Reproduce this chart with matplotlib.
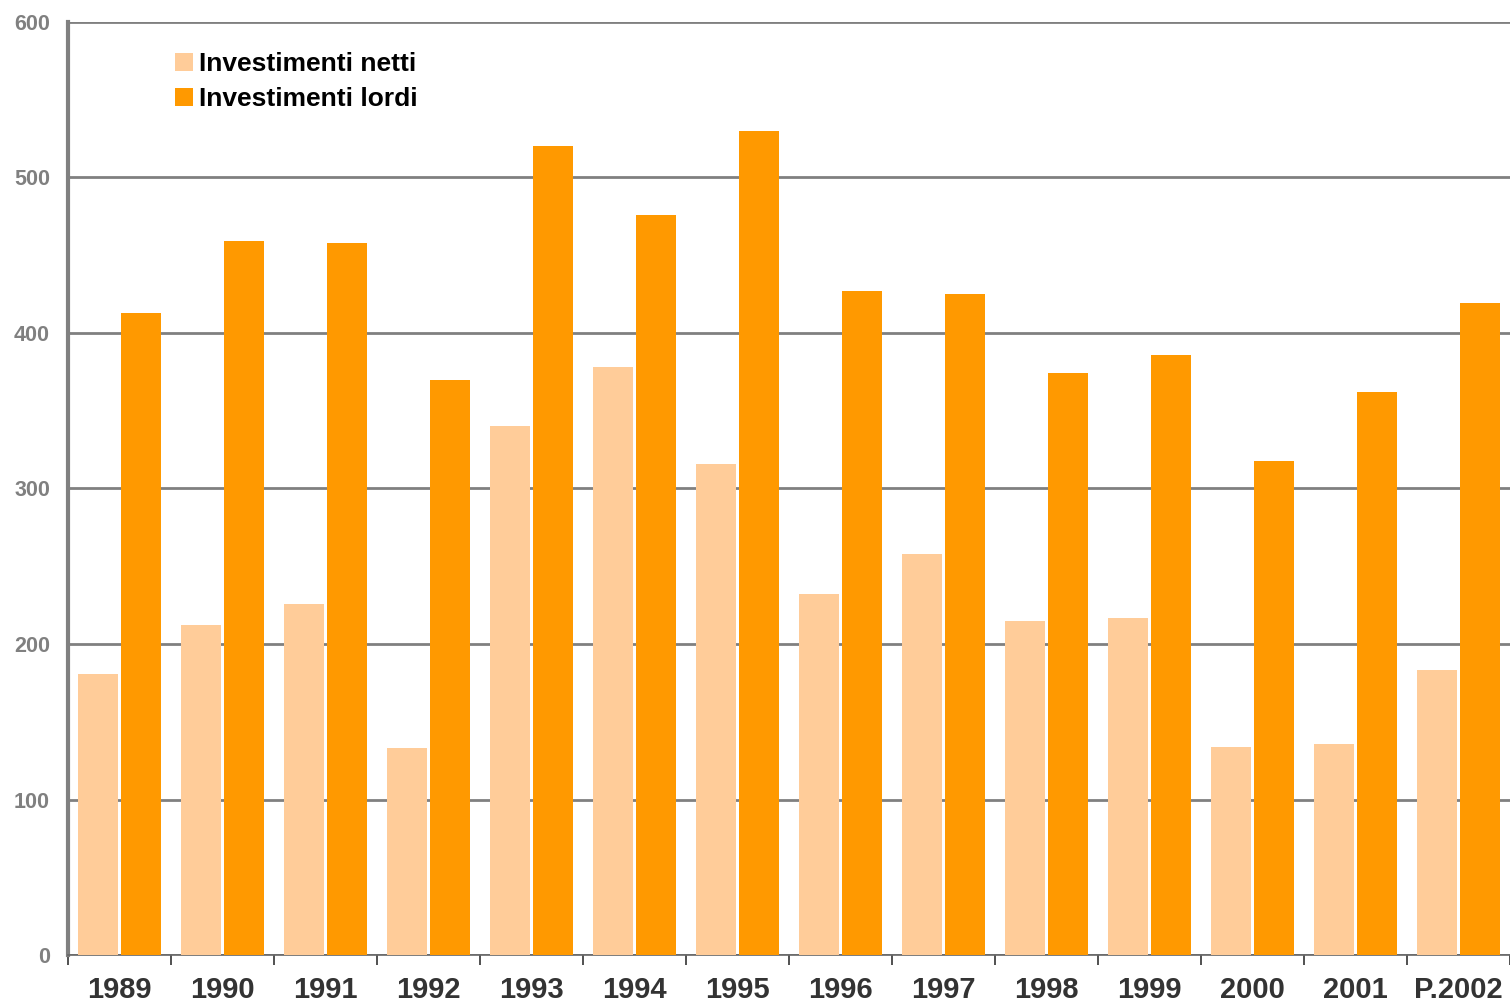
import numpy as np
import matplotlib
matplotlib.use('Agg')
from matplotlib import pyplot as plt

anni = ['1989', '1990', '1991', '1992', '1993', '1994', '1995',
        '1996', '1997', '1998', '1999', '2000', '2001', 'P.2002']
netti = [181, 212, 226, 133, 340, 378, 316, 232, 258, 215, 217, 134, 136, 183]
lordi = [413, 459, 458, 370, 520, 476, 530, 427, 425, 374, 386, 318, 362, 419]

plt.rcParams['font.family'] = ['Liberation Sans', 'DejaVu Sans']

fig = plt.figure(figsize=(15.1, 10.05), dpi=100)
ax = fig.add_axes([68/1510, 50/1005, 1 - 68/1510, 933/1005])

x = np.arange(len(anni))
w = 0.388
ax.bar(x - 0.209, netti, w, color='#FFCC99', label='Investimenti netti', zorder=3)
ax.bar(x + 0.209, lordi, w, color='#FF9900', label='Investimenti lordi', zorder=3)

ax.set_xlim(-0.5, len(anni) - 0.5)
ax.set_ylim(0, 600)
ax.set_yticks(range(0, 601, 100))
ax.yaxis.grid(True, color='#808080', linewidth=2, zorder=1)
ax.set_axisbelow(True)

ax.set_xticks(x)
ax.set_xticklabels(anni, fontsize=21, fontweight='bold', color='#333333')
ax.tick_params(axis='x', which='major', length=0, pad=15)
ax.set_xticks(np.arange(-0.5, len(anni)), minor=True)
ax.tick_params(axis='x', which='minor', length=7, width=1.2, color='#333333', direction='out')
ax.tick_params(axis='y', length=0, pad=13, labelsize=15.5, labelcolor='#808080')
for t in ax.get_yticklabels():
    t.set_fontweight('bold')

for s in ['top', 'right']:
    ax.spines[s].set_visible(False)
ax.spines['left'].set_color('#808080')
ax.spines['left'].set_linewidth(3)
ax.spines['bottom'].set_color('#666666')
ax.spines['bottom'].set_linewidth(1.2)

leg = ax.legend(loc='upper left', bbox_to_anchor=(0.0575, 0.993), frameon=False,
                prop={'size': 19, 'weight': 'bold'}, handlelength=0.68,
                handleheight=0.68, handletextpad=0.25, labelspacing=0.42)

plt.savefig('out.png', dpi=100)
